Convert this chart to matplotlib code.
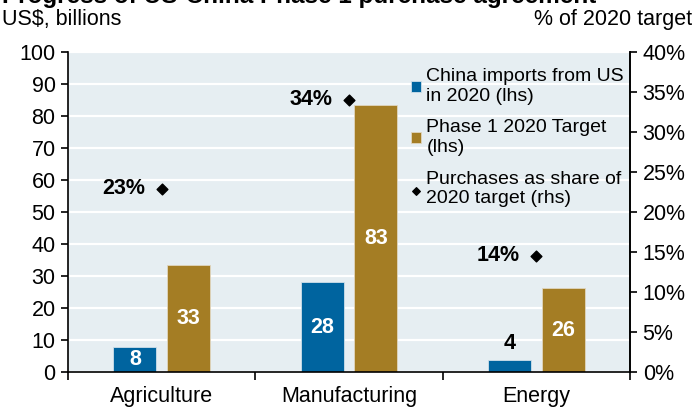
import matplotlib.pyplot as plt
import numpy as np

plt.rcParams['font.family'] = ['Liberation Sans', 'DejaVu Sans']

categories = ['Agriculture', 'Manufacturing', 'Energy']
imports_2020 = [7.8, 28.1, 3.8]        # US$ bn, lhs
target_2020 = [33.4, 83.5, 26.2]       # US$ bn, lhs
share_of_target = [22.9, 34.0, 14.5]   # %, rhs
import_labels = ['8', '28', '4']
target_labels = ['33', '83', '26']
share_labels = ['23%', '34%', '14%']

blue = '#00649f'
gold = '#a47d24'
bg = '#e6eef2'

fig = plt.figure(figsize=(6.94, 4.08), dpi=100)
ax = fig.add_axes([0.098, 0.088, 0.81, 0.785])
ax.set_facecolor(bg)

x = np.arange(len(categories))
w = 0.23
off = 0.143

ax.yaxis.grid(True, color='white', linewidth=1.6)
ax.set_axisbelow(True)

b1 = ax.bar(x - off, imports_2020, w, color=blue, edgecolor='#cfe0ea', linewidth=0.6,
            label='China imports from US\nin 2020 (lhs)')
b2 = ax.bar(x + off, target_2020, w, color=gold, edgecolor='#e0d6bf', linewidth=0.6,
            label='Phase 1 2020 Target\n(lhs)')

# value labels: inside bar, or above it if the bar is too short
for bars, labels in [(b1, import_labels), (b2, target_labels)]:
    for bar, lab in zip(bars, labels):
        h = bar.get_height()
        cx = bar.get_x() + bar.get_width() / 2
        if h < 6:
            ax.text(cx, h + 5.2, lab, ha='center', va='center', color='black',
                    fontsize=15.5, fontweight='bold')
        else:
            ax.text(cx, max(h / 2, 2.8), lab, ha='center', va='center', color='white',
                    fontsize=15.5, fontweight='bold')

ax.set_xlim(-0.5, 2.5)
ax.set_ylim(0, 100)
ax.set_yticks(np.arange(0, 101, 10))
ax.tick_params(axis='y', labelsize=15.5, length=5, width=1.2, direction='out', pad=4)
ax.set_xticks([-0.5, 0.5, 1.5, 2.5])
ax.set_xticklabels([])
ax.tick_params(axis='x', length=6, width=1.2, direction='out')
ax.set_xticks(x, minor=True)
ax.set_xticklabels(categories, minor=True)
ax.tick_params(axis='x', which='minor', length=0, pad=10, labelsize=15.5)

ax.spines['top'].set_visible(False)
for s in ['left', 'bottom', 'right']:
    ax.spines[s].set_linewidth(1.2)

ax2 = ax.twinx()
ax2.set_ylim(0, 40)
ax2.set_yticks(np.arange(0, 41, 5))
ax2.set_yticklabels([f'{v}%' for v in range(0, 41, 5)])
ax2.tick_params(axis='y', labelsize=15.5, length=5, width=1.2, direction='out', pad=4)
ax2.spines['top'].set_visible(False)
ax2.spines['left'].set_visible(False)
ax2.spines['bottom'].set_visible(False)
ax2.spines['right'].set_linewidth(1.2)

pts = ax2.scatter(x, share_of_target, marker='D', s=30, color='black', zorder=5,
                  label='Purchases as share of\n2020 target (rhs)')
for xi, v, lab in zip(x, share_of_target, share_labels):
    ax2.text(xi - 0.09, v, lab, ha='right', va='center', fontsize=15.5, fontweight='bold')

handles = [b1, b2, pts]
ax2.legend(handles, [h.get_label() for h in handles], loc='upper right',
           bbox_to_anchor=(1.01, 0.985), frameon=False, fontsize=14,
           handlelength=0.5, handleheight=0.5, handletextpad=0.3, labelspacing=0.75,
           markerscale=0.7, borderaxespad=0.2)

fig.text(0.003, 0.953, 'US$, billions', fontsize=15.5, ha='left', va='center')
fig.text(0.997, 0.953, '% of 2020 target', fontsize=15.5, ha='right', va='center')
fig.text(0.003, 0.993, 'Progress of US-China Phase 1 purchase agreement', fontsize=17.5,
         fontweight='bold', ha='left', va='baseline')

fig.savefig('out.png', dpi=100)
